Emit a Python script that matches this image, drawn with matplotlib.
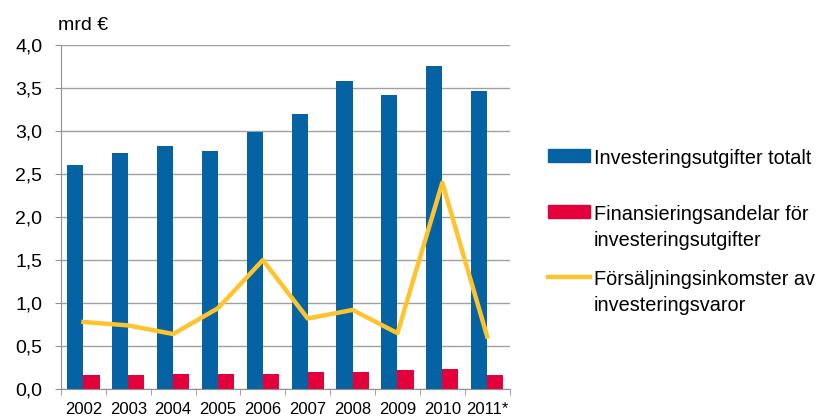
import numpy as np
import matplotlib.pyplot as plt
from matplotlib.patches import Patch
from matplotlib.lines import Line2D

plt.rcParams['font.family'] = ['Liberation Sans', 'DejaVu Sans']

years = ["2002", "2003", "2004", "2005", "2006", "2007", "2008", "2009", "2010", "2011*"]
totalt = [2.60, 2.75, 2.83, 2.77, 2.99, 3.20, 3.58, 3.42, 3.76, 3.47]
finansiering = [0.16, 0.16, 0.18, 0.18, 0.18, 0.20, 0.20, 0.22, 0.23, 0.16]
forsaljning = [0.78, 0.74, 0.64, 0.94, 1.50, 0.82, 0.92, 0.65, 2.40, 0.61]

blue = "#0563a4"
red = "#e4003a"
yellow = "#fec42d"
grey = "#909090"

fig = plt.figure(figsize=(8.3, 4.17), dpi=100)
ax = fig.add_axes([0.0735, 0.067, 0.5405, 0.825])

x = np.arange(len(years))
w = 0.36
ax.bar(x - w / 2, totalt, w, color=blue, zorder=2)
ax.bar(x + w / 2, finansiering, w, color=red, zorder=2)
ax.plot(x, forsaljning, color=yellow, lw=3.2, zorder=3)

ax.set_xlim(-0.5, len(years) - 0.5)
ax.set_ylim(0, 4.0)
yt = np.arange(0, 4.01, 0.5)
ax.set_yticks(yt)
ax.set_yticklabels([f"{v:.1f}".replace(".", ",") for v in yt])
ax.yaxis.grid(True, color="#a0a0a0", lw=1, zorder=0)
ax.set_axisbelow(True)

ax.set_xticks(x)
ax.set_xticklabels(years)
ax.set_xticks(np.arange(-0.5, len(years)), minor=True)
ax.tick_params(axis="x", which="major", length=0, pad=9, labelsize=12)
ax.tick_params(axis="x", which="minor", length=4.5, color=grey, direction="out")
ax.tick_params(axis="y", length=4.5, color=grey, labelsize=14, pad=9)

for s in ["top", "right"]:
    ax.spines[s].set_visible(False)
for s in ["left", "bottom"]:
    ax.spines[s].set_color(grey)

fig.text(58 / 830, 1 - 25 / 417, "mrd €", fontsize=14, va="center", ha="left")

# one legend per entry so the handle sits next to the first text line
entries = [
    (Patch(color=blue), "Investeringsutgifter totalt", 149),
    (Patch(color=red), "Finansieringsandelar för\ninvesteringsutgifter", 205),
    (Line2D([0], [0], color=yellow, lw=3.2), "Försäljningsinkomster av\ninvesteringsvaror", 270),
]
for h, lab, top in entries:
    leg = fig.legend([h], [lab], loc="upper left",
                     bbox_to_anchor=(548 / 830, 1 - top / 417),
                     frameon=False, fontsize=14.3, handlelength=2.1,
                     handleheight=0.6, handletextpad=0.2,
                     borderaxespad=0, borderpad=0)
    for t in leg.get_texts():
        t.set_linespacing(1.45)
    for item in leg._legend_handle_box.get_children()[0].get_children():
        item.align = "top"

fig.savefig("out.png", dpi=100)
